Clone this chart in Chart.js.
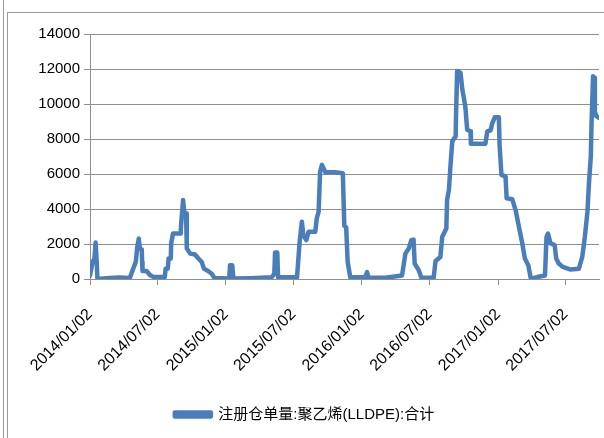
<!DOCTYPE html>
<html>
<head>
<meta charset="utf-8">
<script src="https://cdn.jsdelivr.net/npm/chart.js@4.4.0/dist/chart.umd.min.js"></script>
<style>
  html, body { margin: 0; padding: 0; background: #fff; }
  #wrap { position: relative; width: 604px; height: 438px; overflow: hidden; }
  #wrap canvas { position: absolute; left: 0; top: 0; }
  .frame1 { position: absolute; left: 3px; top: 0; width: 0; height: 438px; border-left: 1px solid #9a9a9a; }
  .frame2 { position: absolute; left: 7px; top: 12px; width: 700px; height: 500px; border-left: 1px solid #9a9a9a; border-top: 1px solid #9a9a9a; }
</style>
</head>
<body>
<div id="wrap">
  <div class="frame1"></div>
  <div class="frame2"></div>
  <canvas id="c" width="604" height="438"></canvas>
</div>
<script>
// 注册仓单量:聚乙烯(LLDPE):合计 — values
const SERIES_LABEL = "注册仓单量:聚乙烯(LLDPE):合计";
const TICK_LABELS = ["2014/01/02","2014/07/02","2015/01/02","2015/07/02","2016/01/02","2016/07/02","2017/01/02","2017/07/02"];
const Y_TICKS = [0, 2000, 4000, 6000, 8000, 10000, 12000, 14000];
const START = "2014/01/02", END = "2017/09/30";

const dates = [
  "2014/01/02","2014/01/09","2014/01/14","2014/01/17","2014/01/20","2014/01/22","2014/02/15","2014/03/20","2014/04/19",
  "2014/04/28","2014/05/05","2014/05/09","2014/05/13","2014/05/16","2014/05/21","2014/05/22","2014/05/23","2014/06/03",
  "2014/06/12","2014/06/21","2014/07/22","2014/07/24","2014/07/30","2014/08/01","2014/08/07","2014/08/08","2014/08/13",
  "2014/09/01","2014/09/03","2014/09/05","2014/09/09","2014/09/12","2014/09/17","2014/09/19","2014/09/28","2014/10/11",
  "2014/10/20","2014/10/29","2014/11/04","2014/11/16","2014/11/25","2014/12/02","2015/01/11","2015/01/13","2015/01/19",
  "2015/01/22","2015/03/10","2015/05/05","2015/05/12","2015/05/14","2015/05/20","2015/05/22","2015/07/12","2015/07/19",
  "2015/07/25","2015/07/29","2015/08/06","2015/08/12","2015/08/30","2015/09/03","2015/09/08","2015/09/12","2015/09/17",
  "2015/09/26","2015/10/23","2015/11/12","2015/11/16","2015/11/21","2015/11/25","2015/12/02","2016/01/11","2016/01/16",
  "2016/01/20","2016/03/05","2016/04/19","2016/04/28","2016/05/07","2016/05/14","2016/05/20","2016/05/23","2016/06/03",
  "2016/06/10","2016/07/13","2016/07/18","2016/07/31","2016/08/05","2016/08/16","2016/08/18","2016/08/23","2016/08/27",
  "2016/09/01","2016/09/10","2016/09/11","2016/09/14","2016/09/23","2016/09/28","2016/10/06","2016/10/11","2016/10/20",
  "2016/10/21","2016/11/29","2016/12/04","2016/12/13","2016/12/17","2016/12/24","2017/01/04","2017/01/06","2017/01/11",
  "2017/01/22","2017/01/25","2017/02/09","2017/02/18","2017/02/27","2017/03/08","2017/03/15","2017/03/24","2017/03/31",
  "2017/04/17","2017/05/08","2017/05/12","2017/05/16","2017/05/23","2017/06/03","2017/06/07","2017/06/14","2017/06/25",
  "2017/07/16","2017/08/07","2017/08/16","2017/08/23","2017/08/30","2017/09/03","2017/09/08","2017/09/10","2017/09/14",
  "2017/09/18","2017/09/19","2017/09/23","2017/09/30"
];
const values = [
  200, 980, 1170, 2090, 980, 0, 50, 80, 60,
  590, 980, 1840, 2310, 1740, 1700, 980, 460, 460,
  230, 120, 120, 590, 590, 1170, 1170, 2030, 2600,
  2600, 2890, 3460, 4520, 3850, 3750, 1740, 1450, 1400,
  1170, 980, 590, 440, 300, 60, 30, 790, 790,
  30, 50, 100, 300, 1510, 1510, 100, 100, 2120,
  3270, 2500, 2220, 2700, 2700, 3460, 3850, 6140, 6520,
  6100, 6100, 6040, 3040, 2950, 980, 100, 100, 390,
  80, 70, 200, 1450, 1740, 2220, 2250, 880, 500,
  70, 70, 1030, 1260, 2410, 2890, 4520, 5090, 6430,
  7870, 8150, 9300, 11880, 11780, 10820, 9860, 8530, 8440,
  7730, 7730, 8440, 8500, 8880, 9240, 9240, 7670, 5950,
  5850, 4610, 4560, 3940, 2980, 2030, 1170, 790, 20,
  110, 200, 2410, 2600, 2030, 1940, 1170, 880, 690,
  540, 590, 1260, 2410, 3850, 5470, 7000, 8880, 11590,
  11500, 9540, 9300, 9200
];

const dayIndex = (s) => {
  const p = (t) => { const [y, m, d] = t.split("/").map(Number); return Date.UTC(y, m - 1, d); };
  return Math.round((p(s) - p(START)) / 86400000);
};

const BLUE = "#4a7ebb", GRID = "#8e8e8e", TXT = "#000";
const FONT = "'Liberation Sans', 'Noto Sans CJK SC', sans-serif";
const tickPos = TICK_LABELS.map(dayIndex);

new Chart(document.getElementById("c"), {
  type: "line",
  data: {
    datasets: [{
      label: SERIES_LABEL,
      data: dates.map((d, i) => ({ x: dayIndex(d), y: values[i] })),
      borderColor: BLUE, backgroundColor: BLUE, borderWidth: 4.5,
      pointRadius: 0, tension: 0, borderJoinStyle: "round", borderCapStyle: "round",
    }],
  },
  options: {
    responsive: false, animation: false, devicePixelRatio: 1,
    layout: { padding: { left: 10, top: 34, right: 5, bottom: 6 } },
    plugins: {
      legend: {
        position: "bottom",
        labels: { boxWidth: 36, boxHeight: 4, color: TXT, padding: 10, font: { family: FONT, size: 15 } },
      },
      tooltip: { enabled: false },
    },
    scales: {
      x: {
        type: "linear", min: 0, max: dayIndex(END),
        afterBuildTicks: (s) => { s.ticks = tickPos.map((v) => ({ value: v })); },
        afterFit: (s) => { s.height = 118; },
        grid: { drawOnChartArea: false, color: GRID, tickLength: 6 },
        border: { color: GRID },
        ticks: {
          autoSkip: false, minRotation: 45, maxRotation: 45, padding: 20, color: TXT, font: { family: FONT, size: 16 },
          callback: (v) => { const i = tickPos.indexOf(v); return i >= 0 ? TICK_LABELS[i] : ""; },
        },
      },
      y: {
        min: 0, max: 14000,
        afterBuildTicks: (s) => { s.ticks = Y_TICKS.map((v) => ({ value: v })); },
        afterFit: (s) => { s.width = 80; },
        grid: { color: GRID, tickLength: 6 },
        border: { color: GRID },
        ticks: { color: TXT, font: { family: FONT, size: 15 }, padding: 4, callback: (v) => String(v) },
      },
    },
  },
});
</script>
</body>
</html>
